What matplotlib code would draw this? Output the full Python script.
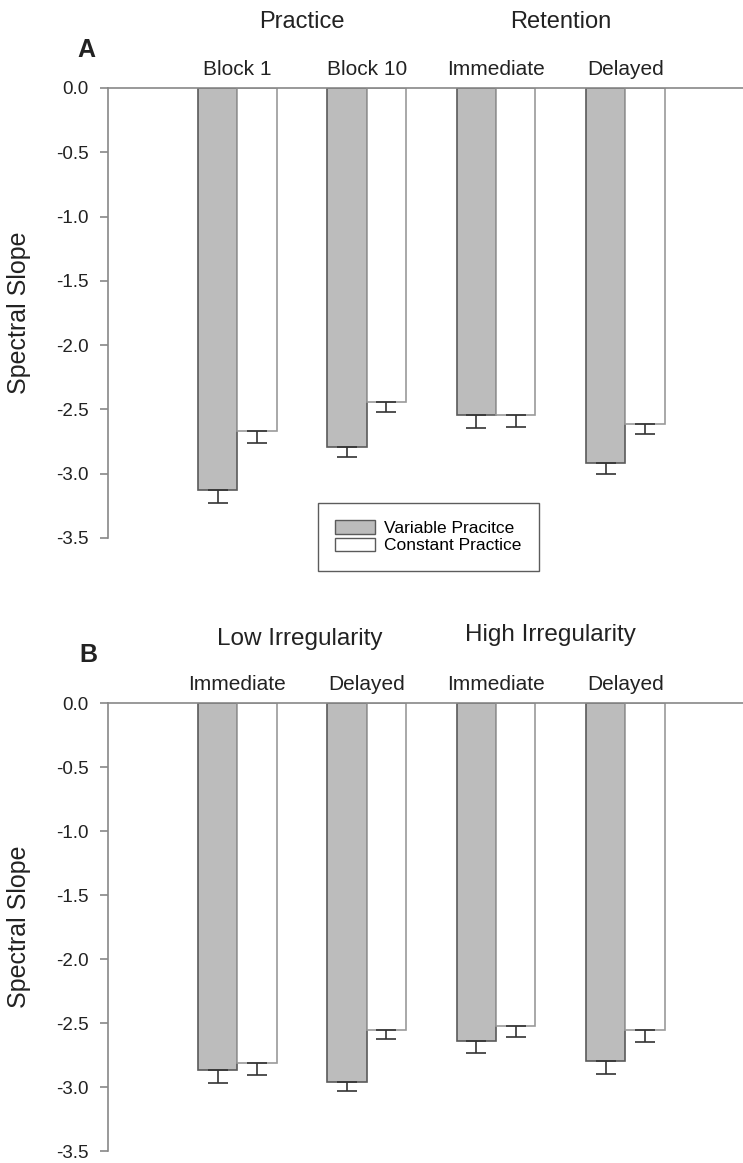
import matplotlib
matplotlib.use("Agg")
import matplotlib.pyplot as plt
import matplotlib.transforms as mtransforms
from matplotlib.patches import Patch

plt.rcParams['font.family'] = ['Liberation Sans', 'DejaVu Sans']

# ---- data ----
a_groups = ["Block 1", "Block 10", "Immediate", "Delayed"]
a_variable = [-3.13, -2.79, -2.545, -2.92]
a_variable_err = [0.10, 0.08, 0.10, 0.08]
a_constant = [-2.67, -2.44, -2.54, -2.61]
a_constant_err = [0.09, 0.08, 0.10, 0.08]

b_groups = ["Immediate", "Delayed", "Immediate", "Delayed"]
b_variable = [-2.87, -2.96, -2.64, -2.80]
b_variable_err = [0.095, 0.07, 0.095, 0.095]
b_constant = [-2.81, -2.557, -2.52, -2.557]
b_constant_err = [0.10, 0.068, 0.09, 0.093]

y_ticks = [0.0, -0.5, -1.0, -1.5, -2.0, -2.5, -3.0, -3.5]
y_ticklabels = ["0.0", "-0.5", "-1.0", "-1.5", "-2.0", "-2.5", "-3.0", "-3.5"]

W, H = 743, 1163
fig = plt.figure(figsize=(W / 100, H / 100), dpi=100)

GRAY = "#bcbcbc"
EDGE_DARK = "#5a5a5a"
EDGE_LIGHT = "#9a9a9a"
SPINE = "#888888"
TXT = "#222222"


def make_panel(top_px, bottom_px, groups, var, var_err, con, con_err):
    left = 108 / W
    ax = fig.add_axes([left, 1 - bottom_px / H, 1 - left, (bottom_px - top_px) / H])
    x = list(range(1, len(groups) + 1))
    bw = 0.305
    xv = [i - bw / 2 for i in x]
    xc = [i + bw / 2 for i in x]
    ax.bar(xv, var, width=bw, color=GRAY, edgecolor=EDGE_DARK, linewidth=1.2, zorder=2)
    ax.bar(xc, con, width=bw, color="white", edgecolor=EDGE_LIGHT, linewidth=1.2, zorder=2)
    ax.errorbar(xv, var, yerr=[var_err, [0] * len(var)], fmt="none", ecolor="#333333",
                elinewidth=1.2, capsize=7, capthick=1.2, zorder=3)
    ax.errorbar(xc, con, yerr=[con_err, [0] * len(con)], fmt="none", ecolor="#333333",
                elinewidth=1.2, capsize=7, capthick=1.2, zorder=3)
    ax.set_xlim(0, 4.91)
    ax.set_ylim(-3.5, 0)
    ax.spines['right'].set_visible(False)
    ax.spines['bottom'].set_visible(False)
    ax.spines['left'].set_color(SPINE)
    ax.spines['top'].set_color(SPINE)
    ax.spines['left'].set_linewidth(1.2)
    ax.spines['top'].set_linewidth(1.2)
    ax.set_yticks(y_ticks)
    ax.set_yticklabels(y_ticklabels)
    ax.tick_params(axis='y', direction='out', length=6, width=1.2, color=SPINE,
                   labelsize=13.5, pad=8, labelcolor=TXT)
    ax.set_xticks([])
    ax.set_ylabel("Spectral Slope", fontsize=18, color=TXT)
    ax.yaxis.set_label_coords(-(108 - 19) / (W - 108), 0.5)
    ax.yaxis.label.set_va('center')
    trans = mtransforms.blended_transform_factory(ax.transData, fig.transFigure)
    for i, g in zip(x, groups):
        ax.text(i, 1 - (top_px - 13) / H, g, transform=trans, ha='center', va='baseline',
                fontsize=15, color=TXT)
    return ax, trans


axA, tA = make_panel(88, 538, a_groups, a_variable, a_variable_err, a_constant, a_constant_err)
axB, tB = make_panel(703, 1151, b_groups, b_variable, b_variable_err, b_constant, b_constant_err)

axA.text(1.5, 1 - 28 / H, "Practice", transform=tA, ha='center', va='baseline', fontsize=17, color=TXT)
axA.text(3.5, 1 - 28 / H, "Retention", transform=tA, ha='center', va='baseline', fontsize=17, color=TXT)
fig.text(86 / W, 1 - 57 / H, "A", ha='center', va='baseline', fontsize=18, fontweight='bold', color=TXT)

axB.text(1.48, 1 - 645 / H, "Low Irregularity", transform=tB, ha='center', va='baseline', fontsize=17.5, color=TXT)
axB.text(3.42, 1 - 641 / H, "High Irregularity", transform=tB, ha='center', va='baseline', fontsize=17.5, color=TXT)
fig.text(88 / W, 1 - 662 / H, "B", ha='center', va='baseline', fontsize=18, fontweight='bold', color=TXT)

handles = [Patch(facecolor=GRAY, edgecolor=EDGE_DARK, linewidth=1.0, label="Variable Pracitce"),
           Patch(facecolor="white", edgecolor=EDGE_DARK, linewidth=1.0, label="Constant Practice")]
leg = fig.legend(handles=handles, loc='upper left', bbox_to_anchor=(318 / W, 1 - 503 / H),
                 bbox_transform=fig.transFigure, borderaxespad=0, fontsize=12.5,
                 frameon=True, fancybox=False, handlelength=2.3, handleheight=0.8,
                 handletextpad=0.5, labelspacing=0.1, borderpad=1.0)
leg.get_frame().set_edgecolor("#333333")
leg.get_frame().set_linewidth(1.0)

fig.savefig("out.png", dpi=100)
